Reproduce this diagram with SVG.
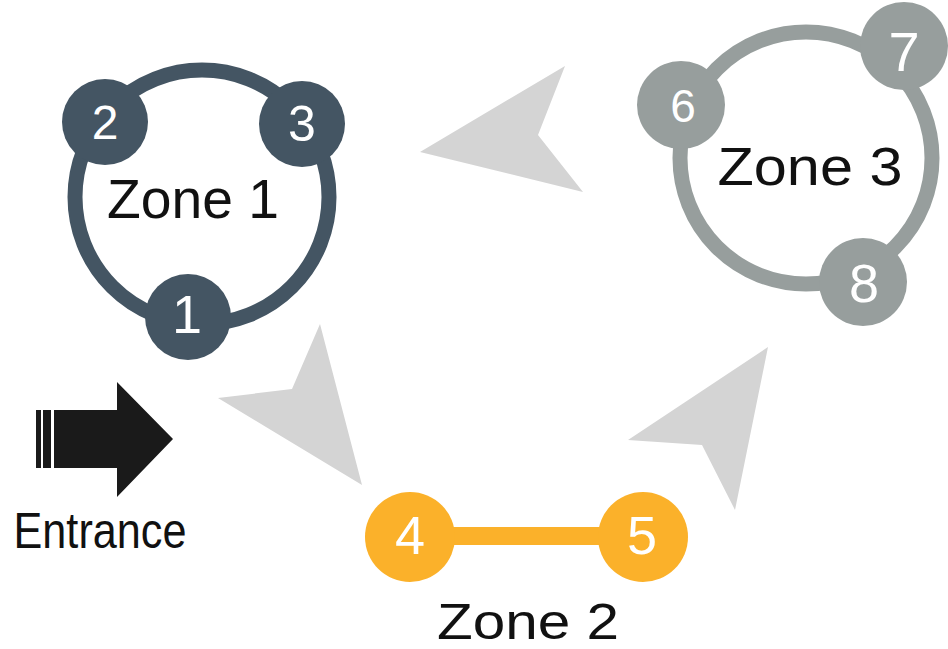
<svg xmlns="http://www.w3.org/2000/svg" width="948" height="649" viewBox="0 0 948 649">
<style>
.num{font-family:"Liberation Sans",Arial,sans-serif;fill:#ffffff;text-anchor:middle;dominant-baseline:central}
.zone{font-family:"Liberation Sans",Arial,sans-serif;fill:#111111;text-anchor:middle}
.flow{fill:#d4d4d4}
</style>
<rect width="948" height="649" fill="#ffffff"/>
<g id="connectors">
<polygon class="flow" points="320,324 362,485 218,398 292,389"/>
<polygon class="flow" points="565,66 538,135 583,192 420,152"/>
<polygon class="flow" points="768,347 628,440 702,445 735,510"/>
</g>
<g id="entrance">
<rect x="36" y="410" width="5" height="58" fill="#1a1a1a"/>
<rect x="43" y="410" width="8" height="58" fill="#1a1a1a"/>
<polygon points="54,410 117,410 117,382 173,439 117,497 117,468 54,468" fill="#1a1a1a"/>
<text x="100" y="548" font-family="'Liberation Sans',Arial,sans-serif" font-size="50" fill="#111111" text-anchor="middle" textLength="173" lengthAdjust="spacingAndGlyphs">Entrance</text>
</g>
<g id="zone1">
<circle cx="202" cy="197" r="127" fill="none" stroke="#445563" stroke-width="15"/>
<circle cx="105" cy="122" r="43" fill="#445563"/>
<circle cx="302" cy="124" r="43" fill="#445563"/>
<circle cx="188" cy="317" r="43" fill="#445563"/>
<text class="num" x="105" y="122" font-size="48">2</text>
<text class="num" x="302" y="124" font-size="50">3</text>
<text class="num" x="187" y="314" font-size="54">1</text>
<text class="zone" x="193" y="218" font-size="56" textLength="172" lengthAdjust="spacingAndGlyphs">Zone 1</text>
</g>
<g id="zone2">
<line x1="410" y1="536" x2="643" y2="536" stroke="#fbb12a" stroke-width="18"/>
<circle cx="410" cy="537" r="45" fill="#fbb12a"/>
<circle cx="643" cy="537" r="45" fill="#fbb12a"/>
<text class="num" x="410" y="535" font-size="54">4</text>
<text class="num" x="642" y="535" font-size="54">5</text>
<text class="zone" x="528" y="639" font-size="50" textLength="182" lengthAdjust="spacingAndGlyphs">Zone 2</text>
</g>
<g id="zone3">
<circle cx="806" cy="158" r="126" fill="none" stroke="#979e9d" stroke-width="15"/>
<circle cx="681" cy="105" r="44" fill="#979e9d"/>
<circle cx="904" cy="46" r="44" fill="#979e9d"/>
<circle cx="863" cy="282" r="44" fill="#979e9d"/>
<text class="num" x="683" y="106" font-size="46">6</text>
<text class="num" x="904" y="51" font-size="56">7</text>
<text class="num" x="864" y="283" font-size="54">8</text>
<text class="zone" x="810" y="185" font-size="53" textLength="185" lengthAdjust="spacingAndGlyphs">Zone 3</text>
</g>
</svg>
